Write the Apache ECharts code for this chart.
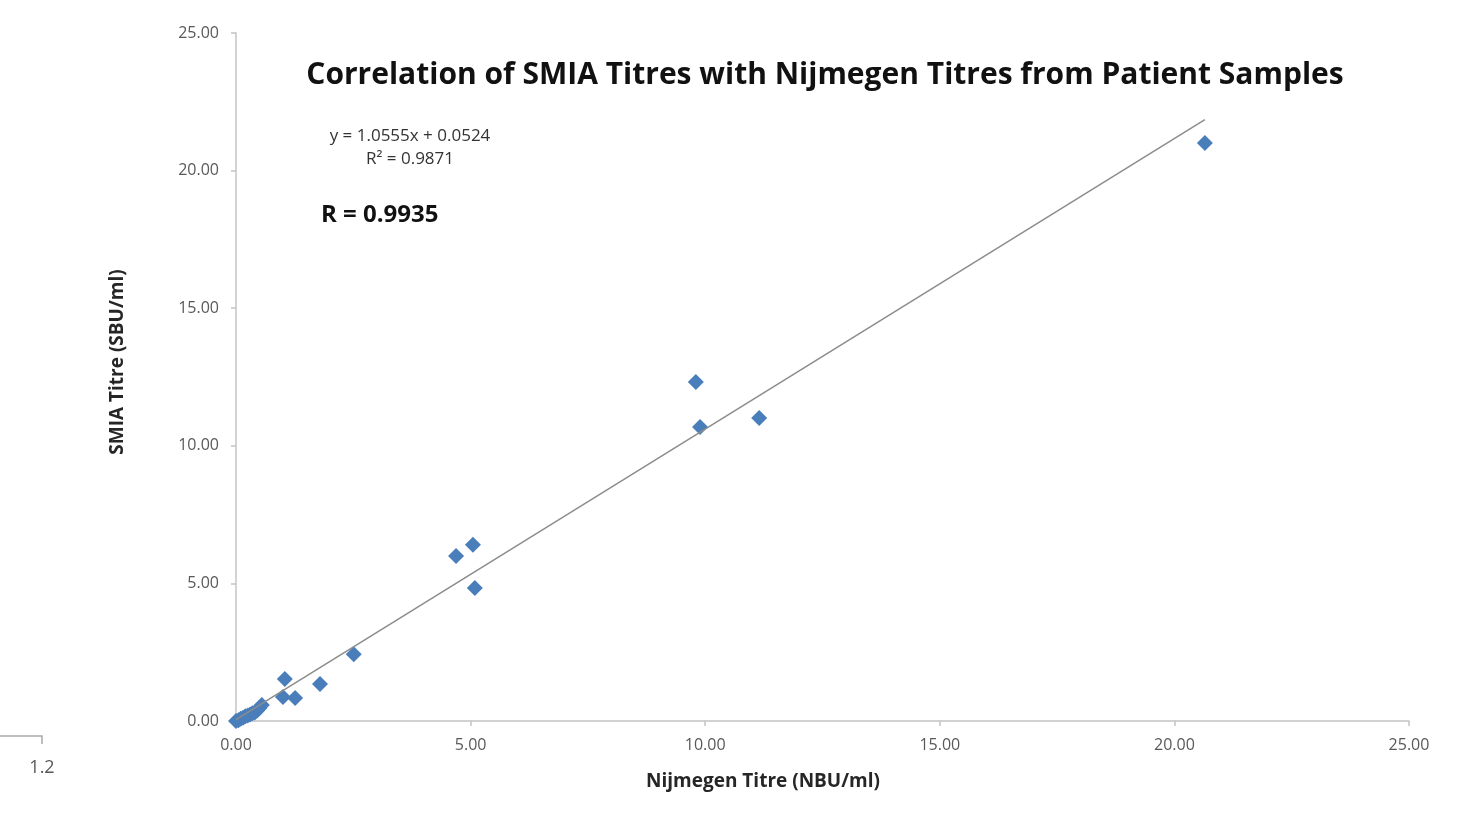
<!DOCTYPE html>
<html>
<head>
<meta charset="utf-8">
<title>SMIA vs Nijmegen</title>
<script src="https://cdn.jsdelivr.net/npm/echarts@6/dist/echarts.min.js"></script>
<style>
  html, body { margin: 0; padding: 0; background: #fff; }
  #chart { width: 1461px; height: 817px; }
</style>
</head>
<body>
<div id="chart"></div>
<script>
  // Nijmegen titre (NBU/ml) vs SMIA titre (SBU/ml)
  var nijmegen = [0.00, 0.05, 0.10, 0.15, 0.20, 0.25, 0.30, 0.35, 0.40, 0.45, 0.50, 0.55,
                  1.00, 1.04, 1.26, 1.79, 2.51, 4.69, 5.05, 5.09, 9.80, 9.89, 11.15, 20.65];
  var smia     = [0.00, 0.03, 0.08, 0.12, 0.17, 0.20, 0.24, 0.28, 0.31, 0.38, 0.47, 0.58,
                  0.87, 1.53, 0.84, 1.34, 2.43, 6.00, 6.40, 4.83, 12.32, 10.68, 11.01, 21.00];
  var slope = 1.0555;
  var intercept = 0.0524;
  var axisTicks = [0, 5, 10, 15, 20, 25];

  var points = nijmegen.map(function (x, i) { return [x, smia[i]]; });
  var xMax = Math.max.apply(null, nijmegen);
  var trend = [[0, intercept], [xMax, slope * xMax + intercept]];

  var chart = echarts.init(document.getElementById('chart'));
  var labelFont = 'Open Sans';
  var axisCommon = {
    min: axisTicks[0],
    max: axisTicks[axisTicks.length - 1],
    interval: axisTicks[1] - axisTicks[0],
    splitLine: { show: false },
    axisLine: { show: true, lineStyle: { color: '#c4c4c4', width: 1.5 } },
    axisTick: { show: true, inside: false, length: 5, lineStyle: { color: '#c4c4c4', width: 1.5 } },
    axisLabel: {
      color: '#595959', fontSize: 16, fontFamily: labelFont,
      formatter: function (v) { return v.toFixed(2); }
    }
  };

  var option = {
    animation: false,
    backgroundColor: '#ffffff',
    title: {
      text: 'Correlation of SMIA Titres with Nijmegen Titres from Patient Samples',
      left: 820, top: 55, textAlign: 'center',
      textStyle: { color: '#111', fontSize: 30, fontWeight: 'bold', fontFamily: labelFont }
    },
    grid: { left: 236, right: 52, top: 33, bottom: 96 },
    xAxis: Object.assign({}, axisCommon, {
      type: 'value',
      axisLabel: Object.assign({}, axisCommon.axisLabel, { margin: 16 })
    }),
    yAxis: Object.assign({}, axisCommon, {
      type: 'value',
      axisLabel: Object.assign({}, axisCommon.axisLabel, { margin: 17 })
    }),
    series: [
      {
        type: 'line',
        data: trend,
        symbol: 'none',
        lineStyle: { color: '#8c8c8c', width: 1.5 },
        z: 3
      },
      {
        type: 'scatter',
        data: points,
        symbol: 'diamond',
        symbolSize: 16,
        itemStyle: { color: '#4a7ebb', opacity: 1 },
        z: 2
      }
    ],
    graphic: [
      {
        type: 'text', x: 763, y: 782,
        style: {
          text: 'Nijmegen Titre (NBU/ml)', fill: '#262626', align: 'center', verticalAlign: 'middle',
          font: 'bold 19px "Open Sans"'
        }
      },
      {
        type: 'text', x: 118, y: 362, rotation: Math.PI / 2,
        style: {
          text: 'SMIA Titre (SBU/ml)', fill: '#262626', align: 'center', verticalAlign: 'middle',
          font: 'bold 19px "Open Sans"'
        }
      },
      {
        type: 'text', x: 410, y: 136,
        style: { text: 'y = 1.0555x + 0.0524', fill: '#333', align: 'center', verticalAlign: 'middle', font: '17px "Open Sans"' }
      },
      {
        type: 'text', x: 410, y: 159,
        style: { text: 'R² = 0.9871', fill: '#333', align: 'center', verticalAlign: 'middle', font: '17px "Open Sans"' }
      },
      {
        type: 'text', left: 321, top: 203,
        style: { text: 'R = 0.9935', fill: '#111', font: 'bold 24px "Open Sans"' }
      },
      {
        type: 'polyline',
        shape: { points: [[0, 736], [42, 736], [42, 744]] },
        style: { stroke: '#aaaaaa', lineWidth: 1.5, fill: null }
      },
      {
        type: 'text', x: 42, y: 768,
        style: { text: '1.2', fill: '#595959', align: 'center', verticalAlign: 'middle', font: '18px "Open Sans"' }
      }
    ]
  };

  chart.setOption(option);
  window.addEventListener('resize', function () {
    chart.resize();
  });
</script>
</body>
</html>
